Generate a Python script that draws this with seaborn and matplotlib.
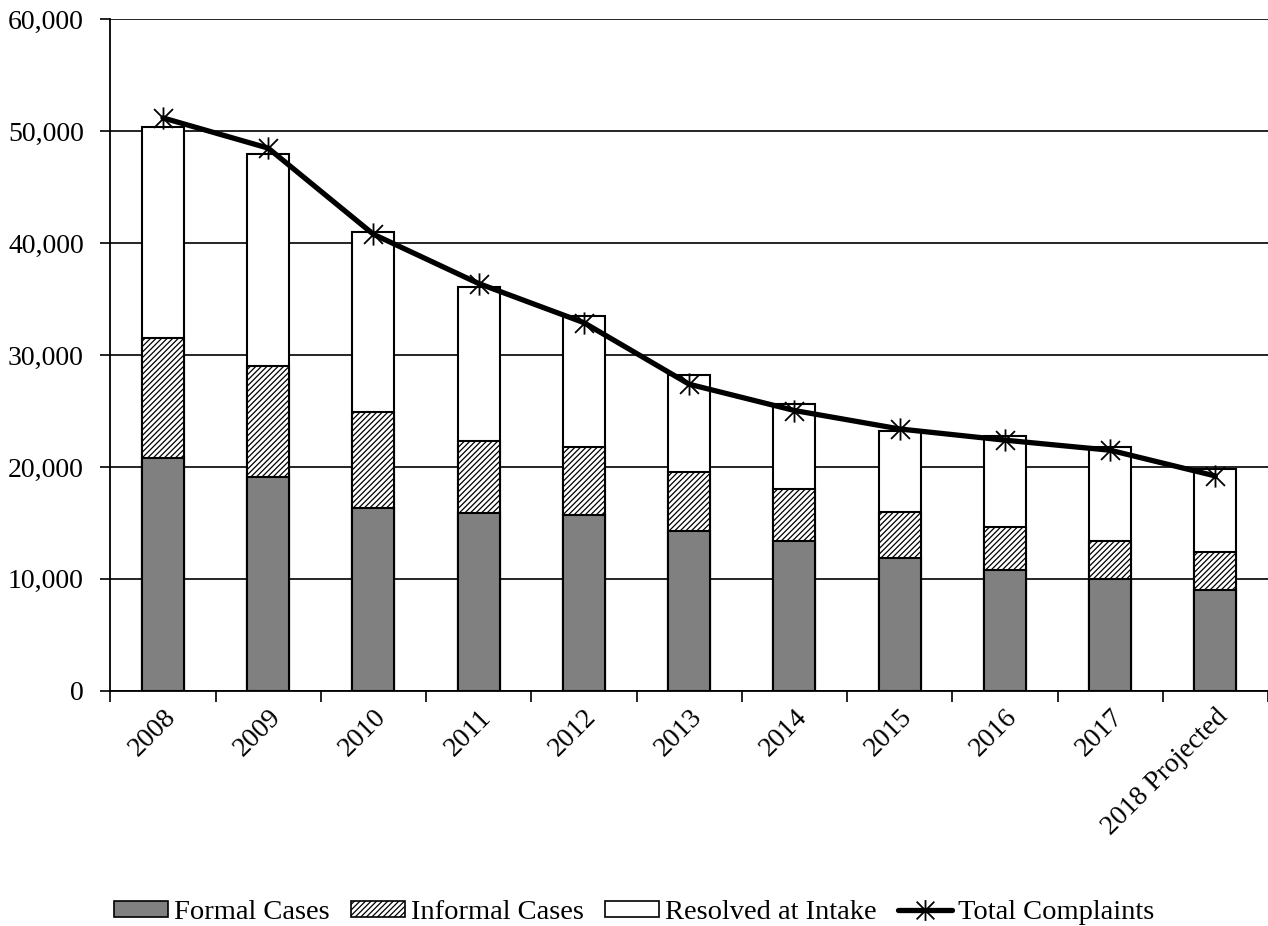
import numpy as np
import pandas as pd
import matplotlib
matplotlib.use("Agg")
import matplotlib.pyplot as plt
from matplotlib.patches import Patch
from matplotlib.lines import Line2D
from matplotlib.path import Path
from matplotlib.ticker import FuncFormatter, FixedLocator
import seaborn as sns

# Values
years = ['2008', '2009', '2010', '2011', '2012', '2013', '2014',
         '2015', '2016', '2017', '2018 Projected']
formal = [20850, 19150, 16350, 15900, 15700, 14300, 13350, 11900, 10830, 10000, 9050]
informal = [10650, 9850, 8600, 6400, 6050, 5250, 4650, 4100, 3770, 3400, 3350]
resolved = [18850, 18950, 16050, 13830, 11750, 8690, 7600, 7200, 8200, 8400, 7400]
total = [51200, 48500, 40800, 36400, 32900, 27400, 25050, 23400, 22400, 21500, 19200]

sns.set_theme(style="white")
plt.rcParams['font.family'] = ['Liberation Serif', 'DejaVu Serif']
plt.rcParams['text.color'] = 'black'
plt.rcParams['hatch.linewidth'] = 0.9

# Excel-style star marker: an X with a vertical stroke
star = Path([(0, -1), (0, 1), (-0.85, -0.85), (0.85, 0.85), (-0.85, 0.85), (0.85, -0.85)],
            [Path.MOVETO, Path.LINETO, Path.MOVETO, Path.LINETO, Path.MOVETO, Path.LINETO])

df = pd.DataFrame({'year': years, 'formal': formal,
                   'informal': informal, 'resolved': resolved})
df['top_informal'] = df['formal'] + df['informal']
df['top_resolved'] = df['top_informal'] + df['resolved']

fig, ax = plt.subplots(figsize=(12.68, 9.26), dpi=100)
fig.subplots_adjust(left=0.087, right=1.0, top=0.979, bottom=0.254)

# stacked bars: draw tallest first, overlay lower segments
sns.barplot(data=df, x='year', y='top_resolved', color='white', width=0.4,
            edgecolor='black', linewidth=1.5, saturation=1, ax=ax, zorder=2)
sns.barplot(data=df, x='year', y='top_informal', color='white', width=0.4,
            edgecolor='black', linewidth=1.5, hatch='//////', saturation=1,
            ax=ax, zorder=3)
sns.barplot(data=df, x='year', y='formal', color='#808080', width=0.4,
            edgecolor='black', linewidth=1.5, saturation=1, ax=ax, zorder=4)

sns.lineplot(x=np.arange(len(years)), y=total, color='black', linewidth=3.8,
             marker=star, markersize=16, markeredgewidth=1.3,
             markeredgecolor='black', markerfacecolor='none', ax=ax, zorder=5)

ax.set_xlim(-0.5, len(years) - 0.5)
ax.set_ylim(0, 60000)
ax.set_yticks(np.arange(0, 60001, 10000))
ax.yaxis.set_major_formatter(FuncFormatter(lambda v, p: f'{int(v):,}'))
ax.yaxis.grid(True, color='black', linewidth=1.2)
ax.set_axisbelow(True)
ax.set_xlabel('')
ax.set_ylabel('')

for s in ['top', 'right']:
    ax.spines[s].set_visible(False)
for s in ['left', 'bottom']:
    ax.spines[s].set_color('black')
    ax.spines[s].set_linewidth(1.3)

ax.tick_params(axis='y', which='major', left=True, length=7, width=1.2,
               color='black', labelsize=20, labelcolor='black', pad=12)
ax.tick_params(axis='x', which='major', bottom=False, labelsize=20,
               labelcolor='black', pad=4)
ax.xaxis.set_minor_locator(FixedLocator(np.arange(-0.5, len(years), 1.0)))
ax.tick_params(axis='x', which='minor', bottom=True, length=8, width=1.2,
               color='black')
ax.set_xticks(np.arange(len(years)))
ax.set_xticklabels(years, rotation=45, ha='right', rotation_mode='anchor')

handles = [
    Patch(facecolor='#808080', edgecolor='black', linewidth=1.2, label='Formal Cases'),
    Patch(facecolor='white', edgecolor='black', linewidth=1.2, hatch='//////',
          label='Informal Cases'),
    Patch(facecolor='white', edgecolor='black', linewidth=1.2, label='Resolved at Intake'),
    Line2D([0], [0], color='black', linewidth=3.8, marker=star, markersize=15,
           markeredgewidth=1.3, markerfacecolor='none', label='Total Complaints'),
]
fig.legend(handles=handles, loc='lower center', bbox_to_anchor=(0.5, -0.027),
           ncol=4, frameon=False, fontsize=20.5, labelcolor='black',
           handlelength=1.9, handleheight=0.5, handletextpad=0.2,
           columnspacing=0.75)

fig.savefig('out.png', dpi=100)
